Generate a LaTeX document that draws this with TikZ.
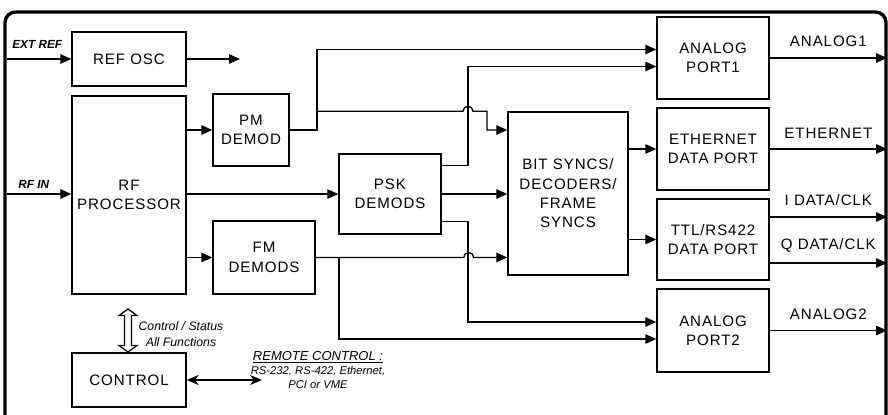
\documentclass[tikz,border=0pt]{standalone}
\usepackage{fontspec}
\setmainfont{Liberation Sans}
\newfontfamily\blkfont[LetterSpace=6]{Liberation Sans}
\usetikzlibrary{arrows.meta}
\begin{document}
\begin{tikzpicture}[x=0.02cm, y=-0.02cm,
        blk/.style={draw, line width=0.8pt, align=center, inner sep=0pt,
            font=\blkfont\fontsize{8.6}{11}\selectfont},
        wire/.style={line width=0.75pt},
        arr/.style={wire, -{Triangle[length=2.2mm, width=1.9mm]}},
        sig/.style={font=\blkfont\fontsize{8.6}{11}\selectfont, above=2.5pt, midway},
        lbl/.style={font=\fontsize{6.7}{8}\selectfont\bfseries\itshape, inner sep=0pt},
        note/.style={font=\fontsize{7}{9}\selectfont\itshape, align=center, inner sep=0pt}]
        \useasboundingbox (0,0) rectangle (888,415);
        \draw[line width=1.9pt, rounded corners=6pt] (5,440) -- (5,12) -- (886,12) -- (886,440);

        \node[blk, minimum width=2.28cm, minimum height=1.08cm] (refosc) at (129,59) {REF OSC};
        \node[blk, minimum width=2.28cm, minimum height=3.96cm] (rfproc) at (129,195) {RF\\PROCESSOR};
        \node[blk, minimum width=2.28cm, minimum height=1.08cm] (control) at (129,380) {CONTROL};
        \node[blk, minimum width=1.52cm, minimum height=1.44cm] (pmdemod) at (251,130) {PM\\DEMOD};
        \node[blk, minimum width=2.04cm, minimum height=1.46cm] (fmdemods) at (264,257.5) {FM\\DEMODS};
        \node[blk, minimum width=2.04cm, minimum height=1.6cm] (pskdemods) at (390,194) {PSK\\DEMODS};
        \node[blk, minimum width=2.4cm, minimum height=3.26cm] (bitsync) at (568,193.5) {BIT SYNCS/\\DECODERS/\\FRAME\\SYNCS};
        \node[blk, minimum width=2.24cm, minimum height=1.64cm] (analog1) at (713,58) {ANALOG\\PORT1};
        \node[blk, minimum width=2.24cm, minimum height=1.64cm] (ethernet) at (713,149) {ETHERNET\\DATA PORT};
        \node[blk, minimum width=2.24cm, minimum height=1.62cm] (ttl) at (713,239.5) {TTL/RS422\\DATA PORT};
        \node[blk, minimum width=2.24cm, minimum height=1.66cm] (analog2) at (713,330.5) {ANALOG\\PORT2};

        \coordinate (rimL) at (7,0);
        \coordinate (rimR) at (887,0);
        \coordinate (refout) at (240,59);
        \coordinate (remote) at (262,380);
        \coordinate (pmbus) at (317,0);
        \coordinate (fmbus) at (339,0);
        \coordinate (pskbus) at (468,0);
        \coordinate (jog) at (487,0);
        \coordinate (a1in1) at ([yshift=0.17cm]analog1.west);
        \coordinate (a1in2) at ([yshift=-0.17cm]analog1.west);
        \coordinate (a2in1) at ([yshift=0.17cm]analog2.west);
        \coordinate (a2in2) at ([yshift=-0.17cm]analog2.west);

        \draw[arr] (rimL |- refosc) -- (refosc.west);
        \node[lbl, anchor=south west] (extref) at (12,49) {EXT REF};
        \draw[arr] (refosc.east) -- (refout);
        \draw[arr] (rimL |- pskdemods) -- (rfproc.west |- pskdemods);
        \node[lbl, anchor=south west] (rfin) at (18,189) {RF IN};

        \draw[arr] (rfproc.east |- pmdemod) -- (pmdemod.west);
        \draw[arr] (rfproc.east |- pskdemods) -- (pskdemods.west);
        \draw[arr] (rfproc.east |- fmdemods) -- (fmdemods.west);

        \draw[arr] (pmdemod.east) -| (pmbus |- a1in1) -- (a1in1);
        \draw[arr] (pmbus |- bitsync.north) -- ++(146,0) arc[start angle=180, end angle=360, radius=5]
            -| (jog |- pmdemod) -- (bitsync.west |- pmdemod);
        \draw[arr] ([yshift=-0.24cm]pskdemods.north east) -| (pskbus |- a1in2) -- (a1in2);
        \draw[arr] (pskdemods.east) -- (bitsync.west |- pskdemods);
        \draw[arr] ([yshift=0.26cm]pskdemods.south east) -| (pskbus |- a2in1) -- (a2in1);
        \draw[arr] (fmdemods.east) -- ++(148,0) arc[start angle=180, end angle=360, radius=5]
            -- (bitsync.west |- fmdemods);
        \draw[arr] (fmbus |- fmdemods) |- (a2in2);

        \draw[arr] (bitsync.east |- ethernet) -- (ethernet.west);
        \draw[arr] (bitsync.east |- ttl) -- (ttl.west);

        \draw[arr] (analog1.east) -- (analog1.east -| rimR) node[sig] (lanalog1) {ANALOG1};
        \draw[arr] (ethernet.east) -- (ethernet.east -| rimR) node[sig] (lether) {ETHERNET};
        \draw[arr] ([yshift=0.45cm]ttl.east) -- ([yshift=0.45cm]ttl.east -| rimR) node[sig] (lidata) {I DATA/CLK};
        \draw[arr] ([yshift=-0.47cm]ttl.east) -- ([yshift=-0.47cm]ttl.east -| rimR) node[sig] (lqdata) {Q DATA/CLK};
        \draw[arr] (analog2.east) -- (analog2.east -| rimR) node[sig] (lanalog2) {ANALOG2};

        \draw[line width=0.7pt, fill=white] (128,309) -- (137,315.5) -- (131.5,315.5) -- (131.5,345.5)
            -- (137,345.5) -- (128,352) -- (119,345.5) -- (124.5,345.5) -- (124.5,315.5) -- (119,315.5) -- cycle;
        \node[note] (ctlnote) at (181,334) {Control / Status\\All Functions};

        \draw[line width=1.6pt, {Stealth[length=2.4mm, width=2mm]}-{Stealth[length=2.4mm, width=2mm]}] (control.east) -- (remote);
        \node[note, font=\fontsize{6.4}{8.2}\selectfont\itshape] (remnote) at (318,370)
            {{\fontsize{7.4}{8.2}\selectfont\underline{REMOTE CONTROL :}}\\RS-232, RS-422, Ethernet,\\PCI or VME};
    \end{tikzpicture}
\end{document}
